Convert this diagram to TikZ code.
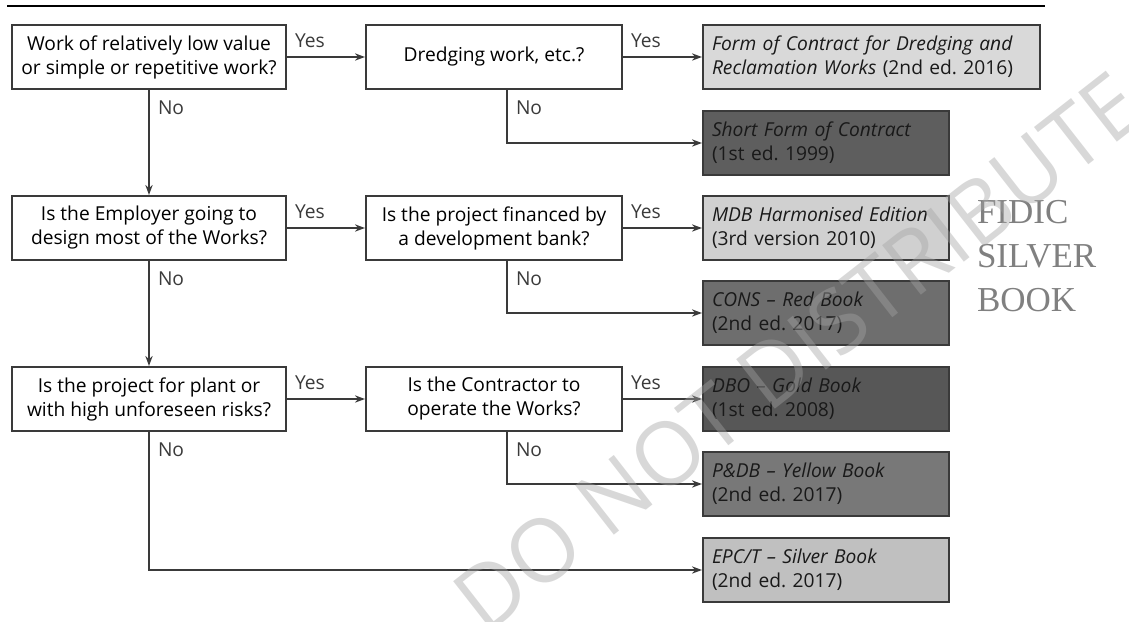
\documentclass[tikz,border=0pt]{standalone}
\usepackage{fontspec}
\setmainfont{Open Sans}
\newfontfamily\serifwm{Liberation Serif}
\usetikzlibrary{arrows.meta}
\frenchspacing
\definecolor{boxline}{HTML}{3A3A3A}
\definecolor{paleA}{HTML}{D9D9D9}
\definecolor{paleB}{HTML}{D0D0D0}
\definecolor{paleC}{HTML}{C0C0C0}
\definecolor{midA}{HTML}{6E6E6E}
\definecolor{midB}{HTML}{787878}
\definecolor{darkA}{HTML}{5E5E5E}
\definecolor{darkB}{HTML}{575757}
\tikzset{q/.style={rectangle,draw=boxline,line width=1pt,fill=white,minimum height=32pt,align=center,inner sep=2pt,font=\fontsize{9.6}{12}\selectfont},
  book/.style={rectangle,draw=boxline,line width=1pt,anchor=west,minimum height=32pt,text width=114pt,align=left,inner xsep=4.5pt,inner ysep=2pt,text=black!90,font=\fontsize{9.6}{12}\selectfont},
  lbl/.style={inner sep=0pt,font=\fontsize{9.6}{12}\selectfont}}

\begin{document}
\begin{tikzpicture}[x=0.5pt,y=-0.5pt,>={Stealth[length=5pt,width=3.6pt]},line width=1pt]
    \useasboundingbox (0,0) rectangle (1129,621);
    \draw[line width=1.4pt] (7,6) -- (1045,6);

    \node[q,minimum width=137pt] (q1) at (149,57) {Work of relatively low value\\or simple or repetitive work?};
    \node[q,minimum width=128pt] (q2) at (494,57) {Dredging work, etc.?};
    \node[q,minimum width=137pt] (q3) at (149,228) {Is the Employer going to\\design most of the Works?};
    \node[q,minimum width=128pt] (q4) at (494,228) {Is the project financed by\\a development bank?};
    \node[q,minimum width=137pt] (q5) at (149,399) {Is the project for plant or\\with high unforeseen risks?};
    \node[q,minimum width=128pt] (q6) at (494,399) {Is the Contractor to\\operate the Works?};

    \node[book,fill=paleA,text width=159.5pt] (f1) at (702,57) {\emph{Form of Contract for Dredging and}\\\emph{Reclamation Works} (2nd ed. 2016)};
    \node[book,fill=darkA] (f2) at (702,143) {\emph{Short Form of Contract}\\(1st ed. 1999)};
    \node[book,fill=paleB] (f3) at (702,228) {\emph{MDB Harmonised Edition}\\(3rd version 2010)};
    \node[book,fill=midA] (f4) at (702,313) {\emph{CONS -- Red Book}\\(2nd ed. 2017)};
    \node[book,fill=darkB] (f5) at (702,399) {\emph{DBO -- Gold Book}\\(1st ed. 2008)};
    \node[book,fill=midB] (f6) at (702,484) {\emph{P\&DB -- Yellow Book}\\(2nd ed. 2017)};
    \node[book,fill=paleC] (f7) at (702,570) {\emph{EPC/T -- Silver Book}\\(2nd ed. 2017)};

    \draw[->,boxline] (q1) -- node[lbl,pos=0,anchor=south west,xshift=3.5pt,yshift=4pt]{Yes} (q2);
    \draw[->,boxline] (q2) -- node[lbl,pos=0,anchor=south west,xshift=3.5pt,yshift=4pt]{Yes} (f1);
    \draw[->,boxline] (q1) -- node[lbl,pos=0,anchor=north west,xshift=4pt,yshift=-5pt]{No} (q3);
    \draw[->,boxline] ([xshift=6.5pt]q2.south) |- node[lbl,pos=0,anchor=north west,xshift=4pt,yshift=-5pt]{No} (f2);

    \draw[->,boxline] (q3) -- node[lbl,pos=0,anchor=south west,xshift=3.5pt,yshift=4pt]{Yes} (q4);
    \draw[->,boxline] (q4) -- node[lbl,pos=0,anchor=south west,xshift=3.5pt,yshift=4pt]{Yes} (f3);
    \draw[->,boxline] (q3) -- node[lbl,pos=0,anchor=north west,xshift=4pt,yshift=-5pt]{No} (q5);
    \draw[->,boxline] ([xshift=6.5pt]q4.south) |- node[lbl,pos=0,anchor=north west,xshift=4pt,yshift=-5pt]{No} (f4);

    \draw[->,boxline] (q5) -- node[lbl,pos=0,anchor=south west,xshift=3.5pt,yshift=4pt]{Yes} (q6);
    \draw[->,boxline] (q6) -- node[lbl,pos=0,anchor=south west,xshift=3.5pt,yshift=4pt]{Yes} (f5);
    \draw[->,boxline] ([xshift=6.5pt]q6.south) |- node[lbl,pos=0,anchor=north west,xshift=4pt,yshift=-5pt]{No} (f6);
    \draw[->,boxline] (q5) |- node[lbl,pos=0,anchor=north west,xshift=4pt,yshift=-5pt]{No} (f7);

    \node[anchor=north west,inner sep=0pt,align=left,text=black!50,font=\serifwm\fontsize{17.5}{22}\selectfont] (wm) at (976,199) {FIDIC\\SILVER\\BOOK};
    \node[rotate=38,inner sep=0pt,text=black!36,text opacity=0.42,font=\fontsize{44}{44}\selectfont] (dnd) at (798,352) {DO NOT DISTRIBUTE};
\end{tikzpicture}
\end{document}
